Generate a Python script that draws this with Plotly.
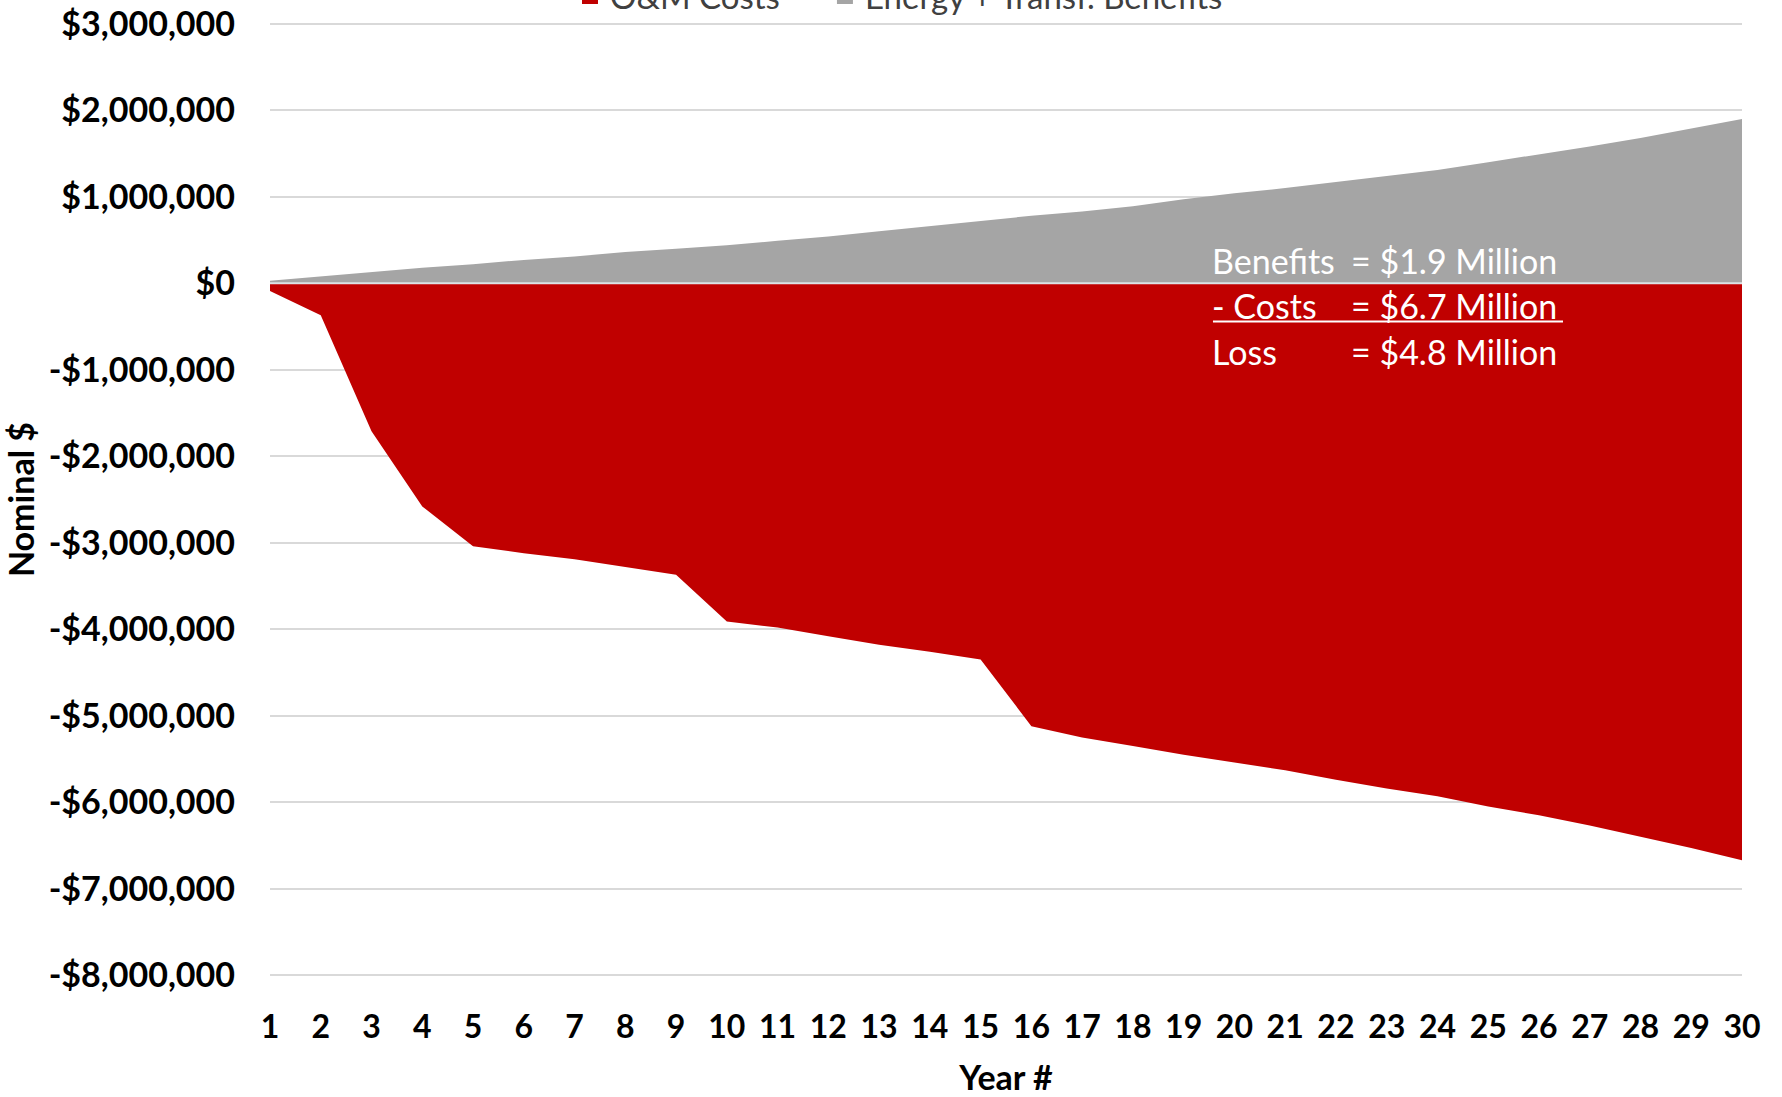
import plotly.graph_objects as go

years = list(range(1, 31))

om_costs = [-90000, -370000, -1710000, -2580000, -3040000, -3120000, -3190000, -3280000,
            -3370000, -3910000, -3980000, -4080000, -4180000, -4260000, -4350000, -5120000,
            -5250000, -5350000, -5450000, -5540000, -5630000, -5740000, -5840000, -5930000,
            -6050000, -6150000, -6270000, -6400000, -6530000, -6670000]

benefits = [30000, 80000, 130000, 180000, 220000, 270000, 310000, 360000, 400000, 440000,
            490000, 540000, 600000, 660000, 720000, 780000, 830000, 890000, 970000, 1040000,
            1100000, 1170000, 1240000, 1310000, 1400000, 1490000, 1580000, 1680000, 1790000, 1900000]

y_tickvals = [3000000, 2000000, 1000000, 0, -1000000, -2000000, -3000000, -4000000,
              -5000000, -6000000, -7000000, -8000000]
y_ticktext = ["$3,000,000", "$2,000,000", "$1,000,000", "$0", "-$1,000,000", "-$2,000,000",
              "-$3,000,000", "-$4,000,000", "-$5,000,000", "-$6,000,000", "-$7,000,000",
              "-$8,000,000"]

summary_labels = ["Benefits", "- Costs", "Loss"]
summary_values = ["= $1.9 Million", "= $6.7 Million", "= $4.8 Million"]

series_names = ["O&M Costs", "Energy + Transf. Benefits"]

RED = "#C00000"
GRAY = "#A5A5A5"
FONT = "Lato"

fig = go.Figure()
fig.add_trace(go.Scatter(x=years, y=om_costs, name=series_names[0], mode="lines",
                         fill="tozeroy", fillcolor=RED, line=dict(width=0, color=RED),
                         showlegend=False))
fig.add_trace(go.Scatter(x=years, y=benefits, name=series_names[1], mode="lines",
                         fill="tozeroy", fillcolor=GRAY, line=dict(width=0, color=GRAY),
                         showlegend=False))
# legend entries with square swatches, one legend each
for nm, col, lg in zip(series_names, [RED, GRAY], ["legend", "legend2"]):
    fig.add_trace(go.Scatter(x=[None], y=[None], name=nm, mode="markers",
                             marker=dict(symbol="square", size=20, color=col),
                             showlegend=True, legend=lg))

# zero line drawn above the fills
fig.add_shape(type="line", xref="paper", yref="y", x0=0, x1=1, y0=0, y1=0,
              line=dict(color="#DDE3E6", width=2), layer="above")

ys = [0.7505, 0.7029, 0.6553]
for lab, val, yy in zip(summary_labels, summary_values, ys):
    fig.add_annotation(xref="paper", yref="paper", x=0.6383, y=yy, text=lab,
                       showarrow=False, xanchor="left", yanchor="middle",
                       font=dict(family=FONT, size=34, color="white"))
    fig.add_annotation(xref="paper", yref="paper", x=0.7331, y=yy, text=val,
                       showarrow=False, xanchor="left", yanchor="middle",
                       font=dict(family=FONT, size=34, color="white"))
fig.add_shape(type="line", xref="paper", yref="paper", x0=0.6406, x1=0.8784,
              y0=0.6863, y1=0.6863, line=dict(color="white", width=2), layer="above")

legend_common = dict(orientation="h", xanchor="left", y=1.0272, yanchor="middle",
                     font=dict(family=FONT, size=33, color="#404040"),
                     bgcolor="rgba(0,0,0,0)")

fig.update_layout(
    width=1782, height=1097,
    margin=dict(l=270, r=40, t=22, b=120, autoexpand=False),
    paper_bgcolor="white", plot_bgcolor="white",
    font=dict(family=FONT, color="black"),
    showlegend=True,
    legend=dict(x=0.2038, **legend_common),
    legend2=dict(x=0.377, **legend_common),
    xaxis=dict(range=[1, 30], tickmode="array", tickvals=years,
               ticktext=[str(y) for y in years], showgrid=False, zeroline=False,
               showline=False, ticks="", ticklabelstandoff=28,
               tickfont=dict(family=FONT, size=32, color="black", weight="bold"),
               title=dict(text="<b>Year #</b>", font=dict(family=FONT, size=34, color="black"),
                          standoff=24)),
    yaxis=dict(range=[-8020000, 3020000], tickmode="array", tickvals=y_tickvals,
               ticktext=y_ticktext, showgrid=True, gridcolor="#D9D9D9", gridwidth=2,
               zeroline=False, showline=False, ticks="", ticklabelstandoff=34,
               tickfont=dict(family=FONT, size=34, color="black", weight="bold"),
               title=dict(text="<b>Nominal $</b>", font=dict(family=FONT, size=34, color="black"),
                          standoff=12)),
)

fig.write_html("out.html", config={"displayModeBar": False},
               post_script="document.body.style.margin='0px';")
